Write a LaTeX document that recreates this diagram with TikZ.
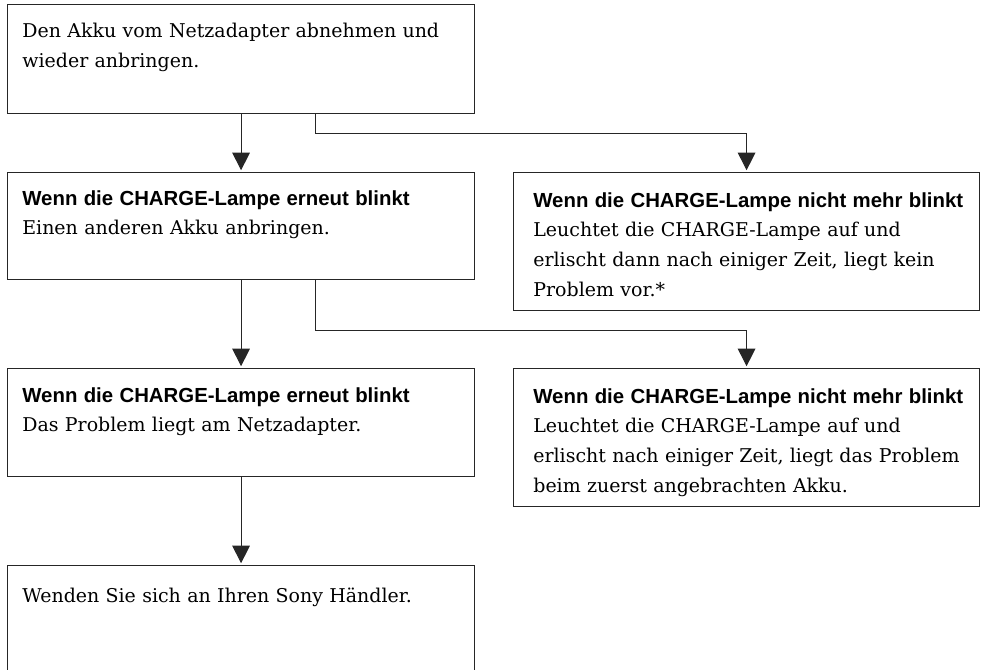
\documentclass[tikz,border=0pt]{standalone}
\usepackage{fontspec}
\setmainfont{DejaVu Serif}
\setsansfont{Liberation Sans}
\usetikzlibrary{arrows.meta,positioning}

\tikzset{
  box/.style={draw=black!85, line width=0.7pt, anchor=north west, inner sep=0pt},
  boxtext/.style={anchor=base west, inner sep=0pt, align=left, text width=9cm,
    font=\fontsize{10.8}{17}\selectfont},
  flow/.style={draw=black!85, line width=0.6pt, -{Triangle[width=10pt,length=10pt]}, shorten >=1pt}
}
\newcommand{\headline}[1]{{\sffamily\bfseries\fontsize{11.6}{17}\selectfont #1}}

\begin{document}
\begin{tikzpicture}[x=0.02cm, y=-0.02cm]
  \clip (0,0) rectangle (982,669);

  % left column
  \node[box, minimum width=9.34cm, minimum height=2.18cm] (remove) at (7,4) {};
  \node[boxtext] (remove-t) at (22,38) {Den Akku vom Netzadapter abnehmen und\\wieder anbringen.};

  \node[box, minimum width=9.34cm, minimum height=2.14cm] (again) at (7,172) {};
  \node[boxtext] (again-t) at (22,205) {\headline{Wenn die CHARGE-Lampe erneut blinkt}\\Einen anderen Akku anbringen.};

  \node[box, minimum width=9.34cm, minimum height=2.16cm] (adapter) at (7,368) {};
  \node[boxtext] (adapter-t) at (22,402) {\headline{Wenn die CHARGE-Lampe erneut blinkt}\\Das Problem liegt am Netzadapter.};

  \node[box, minimum width=9.34cm, minimum height=3cm] (dealer) at (7,565) {};
  \node[boxtext] (dealer-t) at (22,602) {Wenden Sie sich an Ihren Sony H\"andler.};

  % right column
  \node[box, minimum width=9.32cm, minimum height=2.76cm] (fine) at (513,172) {};
  \node[boxtext] (fine-t) at (533,207) {\headline{Wenn die CHARGE-Lampe nicht mehr blinkt}\\Leuchtet die CHARGE-Lampe auf und\\erlischt dann nach einiger Zeit, liegt kein\\Problem vor.*};

  \node[box, minimum width=9.32cm, minimum height=2.76cm] (akku) at (513,368) {};
  \node[boxtext] (akku-t) at (533,403) {\headline{Wenn die CHARGE-Lampe nicht mehr blinkt}\\Leuchtet die CHARGE-Lampe auf und\\erlischt nach einiger Zeit, liegt das Problem\\beim zuerst angebrachten Akku.};

  % connectors
  \draw[flow] (remove.south) -- (again.north);
  \draw[flow] ([xshift=1.49cm]remove.south) -- ++(0,19) -| (fine.north);
  \draw[flow] (again.south) -- (adapter.north);
  \draw[flow] ([xshift=1.49cm]again.south) -- ++(0,50) -| (akku.north);
  \draw[flow] (adapter.south) -- (dealer.north);
\end{tikzpicture}
\end{document}
